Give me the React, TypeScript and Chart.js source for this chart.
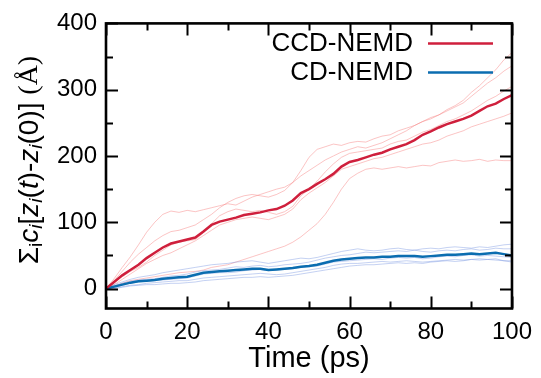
import React, { useEffect, useRef } from "react";
import { Chart, registerables } from "chart.js";

Chart.register(...registerables);

const time = [0, 2, 4, 6, 8, 10, 12, 14, 16, 18, 20, 22, 24, 26, 28, 30, 32, 34, 36, 38, 40, 42, 44, 46, 48, 50, 52, 54, 56, 58, 60, 62, 64, 66, 68, 70, 72, 74, 76, 78, 80, 82, 84, 86, 88, 90, 92, 94, 96, 98, 100];

const ccdMean = [0, 10, 20, 28, 36, 46, 54, 62, 68, 71, 74, 77, 86, 96, 101, 104, 107, 111, 113, 115, 118, 120, 125, 133, 144, 150, 158, 165, 173, 184, 191, 194, 198, 202, 205, 210, 214, 218, 224, 232, 237, 243, 248, 252, 256, 261, 268, 275, 279, 286, 292];
const ccdRunA = [0, 15, 32, 48, 66, 85, 100, 112, 117, 115, 118, 116, 119, 122, 125, 128, 126, 132, 138, 142, 146, 150, 153, 160, 178, 198, 210, 214, 218, 216, 220, 222, 221, 226, 230, 232, 238, 242, 246, 252, 258, 262, 270, 276, 284, 296, 306, 318, 330, 345, 356];
const ccdRunB = [0, 4, 8, 12, 14, 16, 18, 20, 22, 24, 25, 26, 28, 32, 34, 36, 40, 44, 48, 52, 56, 60, 64, 70, 78, 88, 98, 112, 130, 150, 166, 174, 180, 182, 180, 182, 184, 182, 184, 186, 185, 190, 192, 194, 192, 193, 195, 192, 194, 193, 193];
const ccdRunC = [0, 10, 18, 26, 32, 40, 50, 58, 66, 70, 72, 74, 84, 98, 110, 116, 120, 118, 116, 118, 115, 112, 116, 124, 140, 150, 162, 176, 188, 198, 204, 206, 208, 210, 212, 218, 222, 224, 230, 236, 240, 246, 252, 256, 262, 268, 276, 284, 290, 298, 305];
const ccdRunD = [0, 6, 14, 22, 30, 38, 44, 50, 54, 60, 66, 72, 80, 88, 96, 100, 104, 106, 108, 106, 104, 108, 112, 120, 134, 144, 152, 160, 170, 180, 184, 188, 192, 196, 198, 202, 206, 210, 214, 218, 220, 224, 230, 234, 238, 244, 248, 252, 256, 260, 265];
const ccdRunE = [0, 12, 26, 40, 52, 62, 72, 80, 86, 88, 92, 96, 104, 112, 122, 130, 136, 140, 142, 140, 138, 142, 148, 160, 170, 178, 186, 194, 200, 206, 210, 214, 212, 216, 220, 226, 232, 238, 246, 252, 256, 262, 268, 274, 280, 290, 300, 310, 318, 328, 336];

const cdMean = [0, 3, 6, 9, 11, 12, 13, 15, 16, 17, 18, 21, 24, 25, 26, 27, 28, 29, 30, 30, 28, 29, 30, 31, 33, 34, 36, 39, 42, 44, 45, 46, 47, 47, 48, 48, 49, 49, 49, 48, 49, 50, 51, 51, 52, 53, 52, 53, 54, 52, 50];
const cdRun1 = [0, 6, 10, 14, 17, 19, 21, 24, 26, 28, 30, 32, 34, 36, 37, 38, 40, 41, 42, 40, 38, 40, 42, 44, 46, 45, 47, 50, 53, 56, 58, 60, 58, 57, 58, 60, 61, 59, 58, 60, 61, 60, 62, 63, 62, 61, 63, 62, 64, 66, 67];
const cdRun2 = [0, 4, 8, 11, 13, 14, 15, 17, 19, 20, 22, 25, 27, 28, 29, 31, 33, 32, 34, 35, 33, 34, 36, 37, 38, 40, 43, 46, 48, 50, 51, 53, 55, 54, 55, 56, 57, 56, 58, 56, 55, 57, 58, 57, 59, 60, 58, 59, 61, 60, 60];
const cdRun3 = [0, 2, 5, 8, 10, 11, 12, 13, 14, 15, 16, 19, 22, 23, 24, 24, 25, 27, 28, 29, 27, 28, 29, 30, 32, 33, 34, 37, 40, 41, 42, 43, 44, 45, 44, 46, 47, 46, 47, 45, 46, 48, 49, 48, 50, 51, 49, 50, 49, 48, 47];
const cdRun4 = [0, 1, 3, 5, 6, 8, 9, 10, 11, 12, 12, 14, 16, 17, 18, 19, 20, 21, 22, 23, 22, 21, 22, 24, 26, 28, 30, 32, 35, 37, 38, 38, 39, 40, 41, 40, 41, 42, 41, 40, 41, 42, 43, 44, 43, 44, 45, 44, 43, 42, 42];
const cdRun5 = [0, 0, 2, 4, 5, 6, 6, 7, 8, 8, 9, 10, 12, 13, 14, 15, 16, 17, 17, 18, 17, 18, 19, 20, 22, 24, 26, 28, 30, 32, 34, 35, 36, 36, 37, 38, 39, 38, 39, 38, 40, 41, 42, 41, 42, 44, 43, 44, 45, 42, 40];

const seriesLabels = ["CCD-NEMD", "CD-NEMD"];
const xTickValues = [0, 20, 40, 60, 80, 100];
const yTickValues = [0, 100, 200, 300, 400];
const xMinorValues = [0, 10, 20, 30, 40, 50, 60, 70, 80, 90, 100];
const yMinorValues = [0, 50, 100, 150, 200, 250, 300, 350, 400];

const FONT = '"Liberation Sans", Arial, sans-serif';
const SERIF = '"Liberation Serif", "Times New Roman", serif';
const RED = "#cf1f3c";
const BLUE = "#0b6db0";
const RED_THIN = "rgba(246,125,125,0.45)";
const BLUE_THIN = "rgba(115,145,225,0.42)";

const pts = (ys: number[]) => ys.map((v, i) => ({ x: time[i], y: v }));

const framePlugin = {
  id: "frame",
  afterDatasetsDraw(chart: any) {
    const { ctx, chartArea: a, scales } = chart;
    const x = scales.x;
    const y = scales.y;
    ctx.save();
    ctx.strokeStyle = "#000";
    ctx.lineWidth = 2;
    ctx.beginPath();
    for (const v of xMinorValues) {
      const px = Math.round(x.getPixelForValue(v)) + 0.5;
      const len = v % 20 === 0 ? 12 : 7;
      ctx.moveTo(px, a.bottom);
      ctx.lineTo(px, a.bottom - len);
      ctx.moveTo(px, a.top);
      ctx.lineTo(px, a.top + len);
    }
    for (const v of yMinorValues) {
      const py = Math.round(y.getPixelForValue(v)) + 0.5;
      const len = v % 100 === 0 ? 12 : 7;
      ctx.moveTo(a.left, py);
      ctx.lineTo(a.left + len, py);
      ctx.moveTo(a.right, py);
      ctx.lineTo(a.right - len, py);
    }
    ctx.stroke();
    ctx.lineWidth = 2.6;
    ctx.strokeRect(a.left, a.top, a.right - a.left, a.bottom - a.top);

    // legend
    ctx.font = `26px ${FONT}`;
    ctx.textAlign = "right";
    ctx.textBaseline = "middle";
    ctx.fillStyle = "#000";
    const legendColors = [RED, BLUE];
    seriesLabels.forEach((lab, i) => {
      const ly = a.top + 20 + i * 29;
      ctx.fillText(lab, a.left + 307, ly);
      ctx.strokeStyle = legendColors[i];
      ctx.lineWidth = 2.5;
      ctx.beginPath();
      ctx.moveTo(a.left + 322, ly);
      ctx.lineTo(a.left + 387, ly);
      ctx.stroke();
    });

    // x title
    ctx.fillStyle = "#000";
    ctx.textAlign = "center";
    ctx.textBaseline = "middle";
    ctx.font = `29px ${FONT}`;
    ctx.fillText("Time (ps)", (a.left + a.right) / 2, a.bottom + 50);

    // y title
    const size = 28;
    const sub = 19;
    const segs = [
      { t: "Σ", it: false, sb: false, sf: false },
      { t: "i", it: false, sb: true, sf: false },
      { t: "c", it: true, sb: false, sf: false },
      { t: "i", it: true, sb: true, sf: false },
      { t: "[", it: false, sb: false, sf: false },
      { t: "z", it: true, sb: false, sf: false },
      { t: "i", it: true, sb: true, sf: false },
      { t: "(", it: false, sb: false, sf: false },
      { t: "t", it: true, sb: false, sf: false },
      { t: ")-", it: false, sb: false, sf: false },
      { t: "z", it: true, sb: false, sf: false },
      { t: "i", it: true, sb: true, sf: false },
      { t: "(0)] ", it: false, sb: false, sf: false },
      { t: "(Å)", it: false, sb: false, sf: true },
    ];
    const fontOf = (s: any) => `${s.it ? "italic " : ""}${s.sb ? sub : size}px ${s.sf ? SERIF : FONT}`;
    let total = 0;
    const widths = segs.map((s) => {
      ctx.font = fontOf(s);
      const w = ctx.measureText(s.t).width;
      total += w;
      return w;
    });
    ctx.translate(30, 160);
    ctx.rotate(-Math.PI / 2);
    ctx.textAlign = "left";
    ctx.textBaseline = "middle";
    let cx = -total / 2;
    segs.forEach((s, i) => {
      ctx.font = fontOf(s);
      ctx.fillText(s.t, cx, s.sb ? 7 : 0);
      cx += widths[i];
    });
    ctx.restore();
  },
};

export default function App() {
  const ref = useRef<HTMLCanvasElement | null>(null);
  useEffect(() => {
    document.body.style.margin = "0";
    const thin = (data: number[], color: string) => ({
      data: pts(data),
      borderColor: color,
      borderWidth: 1,
      pointRadius: 0,
      tension: 0,
    });
    const chart = new Chart(ref.current as HTMLCanvasElement, {
      type: "line",
      data: {
        datasets: [
          { label: seriesLabels[0], data: pts(ccdMean), borderColor: RED, borderWidth: 2.5, pointRadius: 0, tension: 0 },
          { label: seriesLabels[1], data: pts(cdMean), borderColor: BLUE, borderWidth: 2.5, pointRadius: 0, tension: 0 },
          thin(cdRun1, BLUE_THIN),
          thin(cdRun2, BLUE_THIN),
          thin(cdRun3, BLUE_THIN),
          thin(cdRun4, BLUE_THIN),
          thin(cdRun5, BLUE_THIN),
          thin(ccdRunA, RED_THIN),
          thin(ccdRunB, RED_THIN),
          thin(ccdRunC, RED_THIN),
          thin(ccdRunD, RED_THIN),
          thin(ccdRunE, RED_THIN),
        ] as any,
      },
      options: {
        animation: false,
        responsive: false,
        layout: { padding: { left: 0, right: 27, top: 15, bottom: 0 } },
        plugins: { legend: { display: false }, tooltip: { enabled: false } },
        scales: {
          x: {
            type: "linear",
            min: 0,
            max: 100,
            afterBuildTicks: (s: any) => {
              s.ticks = xTickValues.map((v) => ({ value: v }));
            },
            afterFit: (s: any) => {
              s.height = 69.5;
            },
            ticks: { font: { family: FONT, size: 24 }, color: "#000", padding: 9, maxRotation: 0, autoSkip: false },
            grid: { display: false, drawTicks: false },
            border: { display: false },
          },
          y: {
            type: "linear",
            min: -30,
            max: 400,
            afterBuildTicks: (s: any) => {
              s.ticks = yTickValues.map((v) => ({ value: v }));
            },
            afterFit: (s: any) => {
              s.width = 106;
            },
            ticks: { font: { family: FONT, size: 24 }, color: "#000", padding: 9, autoSkip: false },
            grid: { display: false, drawTicks: false },
            border: { display: false },
          },
        },
      },
      plugins: [framePlugin],
    });
    return () => chart.destroy();
  }, []);
  return (
    <div style={{ width: 541, height: 378 }}>
      <canvas ref={ref} width={541} height={378} />
    </div>
  );
}
